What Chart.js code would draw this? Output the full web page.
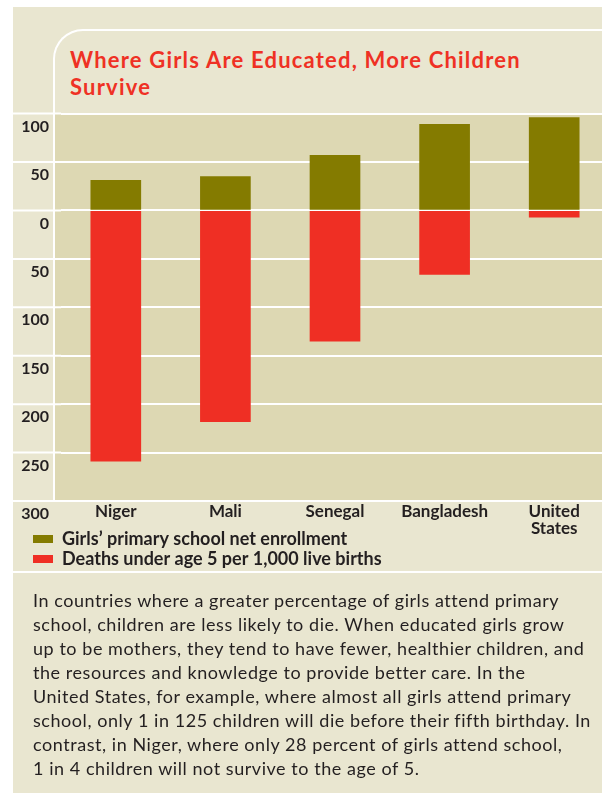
<!DOCTYPE html>
<html>
<head>
<meta charset="utf-8">
<script src="https://cdn.jsdelivr.net/npm/chart.js@4.4.0/dist/chart.umd.min.js"></script>
<style>
  html, body { margin: 0; padding: 0; width: 602px; height: 795px; overflow: hidden; background: #fff; font-family: Lato, sans-serif; }
  .panel { position: absolute; left: 13px; top: 7px; width: 600px; height: 786px; background: #e9e6d0; }
  .titlebox { position: absolute; left: 53px; top: 29px; width: 600px; height: 85px; border-top: 2px solid #fff; border-left: 2px solid #fff; border-top-left-radius: 30px; box-sizing: border-box; }
  h1 { position: absolute; left: 70px; top: 46px; margin: 0; font-size: 22px; line-height: 27px; letter-spacing: 1.2px; color: #ef3124; font-weight: 700; }
  .rule { position: absolute; left: 13px; top: 571px; width: 600px; height: 2px; background: #fff; }
  #wrap { position: absolute; left: 13px; top: 92px; width: 600px; height: 497px; }
  .note { position: absolute; left: 33px; top: 588px; font-size: 18px; line-height: 24px; letter-spacing: 0.55px; color: #231f20; white-space: nowrap; }
</style>
</head>
<body>
<div class="panel"></div>
<div class="titlebox"></div>
<h1>Where Girls Are Educated, More Children<br>Survive</h1>
<div class="rule"></div>
<div id="wrap"><canvas id="chart"></canvas></div>
<div class="note">
In countries where a greater percentage of girls attend primary<br>
school, children are less likely to die. When educated girls grow<br>
up to be mothers, they tend to have fewer, healthier children, and<br>
the resources and knowledge to provide better care. In the<br>
United States, for example, where almost all girls attend primary<br>
school, only 1 in 125 children will die before their fifth birthday. In<br>
contrast, in Niger, where only 28 percent of girls attend school,<br>
1 in 4 children will not survive to the age of 5.
</div>
<script>
const countries = ['Niger', 'Mali', 'Senegal', 'Bangladesh', ['United', 'States']];
// girls' primary school net enrollment (%)
const enrollment = [31, 35, 57, 89, 96];
// deaths under age 5 per 1,000 live births (drawn downward)
const deaths = [259, 218, 135, 66, 7];
const yTicks = [100, 50, 0, -50, -100, -150, -200, -250, -300];

const ink = '#231f20';
Chart.defaults.font.family = 'Lato, sans-serif';

// plot background, grid lines carried into the label column, separator line
const panelLines = {
  id: 'panelLines',
  beforeDraw(chart) {
    const { ctx, chartArea: a, scales: { y } } = chart;
    const colX = a.left - 7;
    ctx.save();
    ctx.fillStyle = '#ddd8b3';
    ctx.fillRect(colX, a.top, chart.width - colX, a.bottom - a.top);
    ctx.strokeStyle = '#fff';
    ctx.lineWidth = 2;
    y.ticks.forEach(t => {
      const py = y.getPixelForValue(t.value);
      ctx.beginPath();
      ctx.moveTo(0, py);
      ctx.lineTo(a.left, py);
      ctx.stroke();
    });
    ctx.beginPath();
    ctx.moveTo(colX, a.top);
    ctx.lineTo(colX, a.bottom);
    ctx.stroke();
    ctx.restore();
  },
  afterLayout(chart) {
    // legend tucked under the axis labels, beside the two-line "United States"
    const lg = chart.legend;
    lg.top -= 11;
    lg.bottom -= 11;
    lg.left += 18;
    lg.right += 18;
  }
};

new Chart(document.getElementById('chart'), {
  type: 'bar',
  data: {
    labels: countries,
    datasets: [
      {
        label: 'Girls\u2019 primary school net enrollment',
        data: enrollment,
        backgroundColor: '#847b00'
      },
      {
        label: 'Deaths under age 5 per 1,000 live births',
        data: deaths.map(v => -v),
        backgroundColor: '#ef2f24'
      }
    ]
  },
  options: {
    responsive: true,
    maintainAspectRatio: false,
    animation: false,
    datasets: { bar: { barThickness: 50, borderWidth: 0 } },
    layout: { padding: { left: 0, right: 4, top: 21.5, bottom: 0 } },
    plugins: {
      tooltip: { enabled: false },
      legend: {
        position: 'bottom',
        align: 'start',
        labels: {
          boxWidth: 20,
          boxHeight: 8,
          padding: 2,
          color: ink,
          font: { size: 18, weight: 'bold' }
        }
      }
    },
    scales: {
      x: {
        stacked: true,
        grid: { display: false, drawTicks: false },
        border: { display: false },
        ticks: {
          color: ink,
          padding: 2,
          maxRotation: 0,
          autoSkip: false,
          font: { size: 17, weight: 'bold', lineHeight: 1 }
        }
      },
      y: {
        stacked: true,
        min: -300,
        max: 100,
        afterBuildTicks: s => { s.ticks = yTicks.map(v => ({ value: v })); },
        afterFit: s => { s.width = 48; },
        grid: { color: '#fff', lineWidth: 2, drawTicks: false },
        border: { display: false },
        ticks: {
          color: ink,
          padding: 12,
          labelOffset: 13,
          font: { size: 16, weight: 'bold' },
          callback: v => Math.abs(v)
        }
      }
    }
  },
  plugins: [panelLines]
});
</script>
</body>
</html>
